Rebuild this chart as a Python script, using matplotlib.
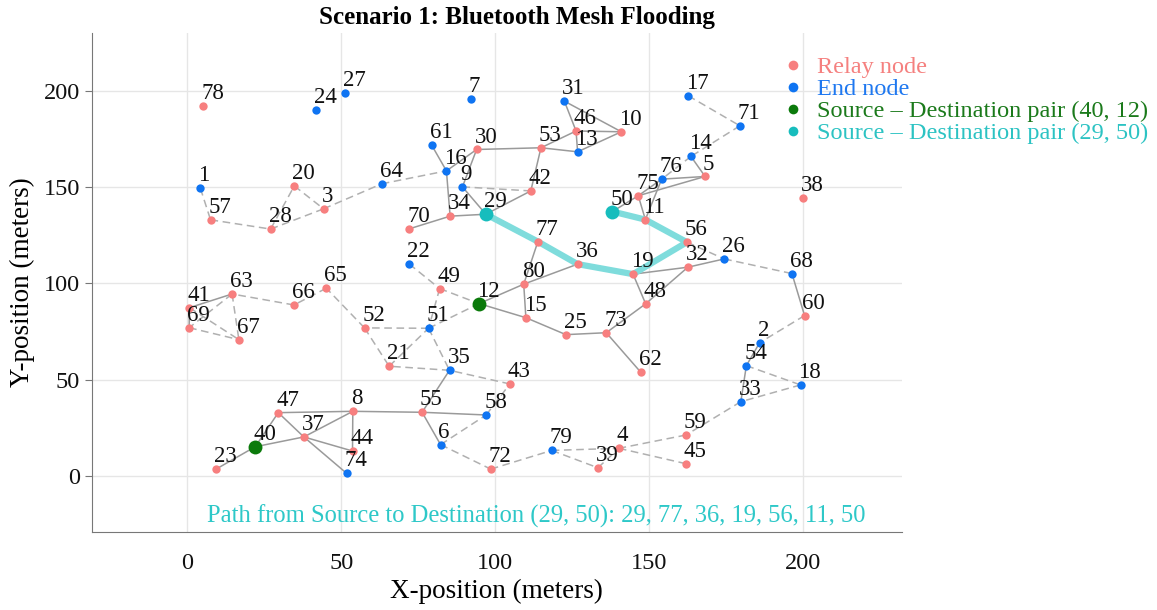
import numpy as np
import matplotlib.pyplot as plt
from matplotlib.lines import Line2D

plt.rcParams["font.family"] = ["Liberation Serif", "DejaVu Serif"]

# node positions (meters)
node_ids = list(range(1, 81))
node_x = [4.2, 185.8, 44.2, 140.1, 168.1, 82.2, 92.0, 53.7, 89.3, 140.9,
          148.7, 94.7, 126.7, 163.5, 109.9, 84.1, 162.6, 199.1, 144.7, 34.7,
          65.5, 72.0, 9.3, 41.9, 122.9, 174.3, 51.3, 27.0, 96.9, 93.9,
          122.4, 162.5, 179.7, 85.3, 85.1, 126.7, 37.8, 199.8, 133.3, 22.0,
          0.65, 111.5, 104.7, 53.6, 161.9, 126.2, 29.5, 148.8, 81.9, 138.0,
          78.3, 57.5, 114.8, 181.5, 76.2, 162.2, 7.5, 97.0, 161.9, 200.4,
          79.3, 147.2, 14.5, 63.1, 45.1, 34.6, 16.7, 196.3, 0.55, 72.0,
          179.4, 98.5, 136.0, 51.7, 146.4, 154.0, 113.8, 5.2, 118.3, 109.2]
node_y = [149.4, 69.2, 138.7, 14.4, 155.5, 16.3, 195.8, 33.6, 150.1, 178.7,
          133.1, 89.5, 168.3, 165.9, 82.2, 158.4, 197.4, 47.3, 104.8, 150.6,
          57.0, 110.1, 3.6, 189.8, 73.4, 112.7, 198.8, 128.2, 135.9, 169.5,
          194.6, 108.4, 38.6, 134.9, 54.9, 110.0, 20.3, 144.4, 4.3, 15.2,
          87.4, 148.0, 47.8, 13.0, 6.4, 179.1, 32.9, 89.4, 97.3, 137.3,
          76.7, 76.9, 170.4, 57.3, 33.1, 121.4, 133.0, 31.7, 21.3, 83.3,
          171.8, 53.9, 94.5, 151.7, 97.5, 88.8, 70.8, 105.1, 77.0, 128.3,
          181.8, 3.6, 74.4, 1.4, 145.5, 154.1, 121.7, 192.2, 13.3, 99.6]

end_nodes = [1, 2, 6, 7, 9, 13, 14, 16, 17, 18, 22, 24, 26, 27, 31, 33, 35,
             51, 54, 58, 61, 64, 68, 71, 74, 76, 79]
pair_green = [40, 12]
pair_cyan = [29, 50]
path_nodes = [29, 77, 36, 19, 56, 11, 50]

solid_edges = [(23, 40), (40, 47), (40, 37), (47, 37), (47, 8), (37, 8),
               (37, 44), (37, 74), (8, 44), (8, 55), (55, 58), (55, 35),
               (55, 6), (12, 80), (12, 15), (80, 15), (80, 77), (80, 36),
               (15, 25), (25, 73), (73, 48), (73, 62), (48, 32), (19, 32),
               (19, 48), (32, 26), (29, 34), (34, 70), (34, 16), (16, 61),
               (16, 30), (30, 9), (9, 29), (30, 53), (53, 42), (42, 29),
               (53, 46), (53, 13), (46, 10), (13, 10), (31, 46), (31, 10),
               (46, 13), (50, 75), (75, 76), (75, 5), (76, 5), (11, 75),
               (11, 76), (14, 5), (41, 63), (41, 69), (2, 54), (54, 33),
               (68, 60)]
dashed_edges = [(1, 57), (57, 28), (28, 20), (20, 3), (28, 3), (3, 64),
                (64, 16), (9, 42), (17, 71), (71, 14), (14, 76), (56, 26),
                (26, 68), (60, 2), (54, 18), (18, 33), (33, 59), (59, 4),
                (4, 45), (79, 39), (79, 4), (39, 4), (72, 79), (6, 72),
                (6, 58), (58, 43), (43, 35), (35, 21), (21, 51), (51, 35),
                (51, 52), (52, 21), (52, 65), (65, 66), (66, 63), (63, 69),
                (63, 67), (69, 67), (41, 67), (22, 49), (49, 12), (49, 51),
                (51, 12)]

pos = {n: (x, y) for n, x, y in zip(node_ids, node_x, node_y)}

relay_c = "#f77f7f"
end_c = "#0f74f2"
green_c = "#0b7a0b"
cyan_c = "#17bdbd"
path_c = "#7fdcdc"

fig = plt.figure(figsize=(11.57, 6.10), dpi=100)
ax = fig.add_axes([0.0795, 0.128, 0.700, 0.818])

for a, b in solid_edges:
    ax.plot([pos[a][0], pos[b][0]], [pos[a][1], pos[b][1]],
            color="#9a9a9a", lw=1.1, zorder=2)
for a, b in dashed_edges:
    ax.plot([pos[a][0], pos[b][0]], [pos[a][1], pos[b][1]],
            color="#b0b0b0", lw=1.1, ls=(0, (5, 3)), zorder=2)

ax.plot([pos[n][0] for n in path_nodes], [pos[n][1] for n in path_nodes],
        color=path_c, lw=4.5, solid_capstyle="round", zorder=3)

relay = [n for n in node_ids if n not in end_nodes + pair_green + pair_cyan]
ax.scatter([pos[n][0] for n in relay], [pos[n][1] for n in relay],
           s=36, color=relay_c, zorder=4, linewidths=0)
ax.scatter([pos[n][0] for n in end_nodes], [pos[n][1] for n in end_nodes],
           s=36, color=end_c, zorder=4, linewidths=0)
ax.scatter([pos[n][0] for n in pair_green], [pos[n][1] for n in pair_green],
           s=100, color=green_c, zorder=5, linewidths=0)
ax.scatter([pos[n][0] for n in pair_cyan], [pos[n][1] for n in pair_cyan],
           s=100, color=cyan_c, zorder=5, linewidths=0)

for n in node_ids:
    ax.annotate(str(n), pos[n], xytext=(-1.5, 5), textcoords="offset points",
                ha="left", va="baseline", fontsize=16.5, color="#111111",
                zorder=6)

ax.text(0.548, 0.032,
        "Path from Source to Destination (29, 50): 29, 77, 36, 19, 56, 11, 50",
        transform=ax.transAxes, ha="center", va="center", fontsize=17.7,
        color="#2ec8c8")

ax.set_xlim(-31, 232)
ax.set_ylim(-29, 230)
ax.set_xticks([0, 50, 100, 150, 200])
ax.set_yticks([0, 50, 100, 150, 200])
ax.grid(True, color="#e6e6e6", lw=1)
ax.set_axisbelow(True)
for s in ["top", "right"]:
    ax.spines[s].set_visible(False)
for s in ["left", "bottom"]:
    ax.spines[s].set_color("#777777")
ax.tick_params(axis="both", labelsize=17.5, colors="#111111", length=5,
               color="#777777")
ax.tick_params(axis="x", length=0, pad=15)
ax.set_xlabel("X-position (meters)", fontsize=19.5, labelpad=4)
ax.set_ylabel("Y-position (meters)", fontsize=19.5, labelpad=6)

fig.text(0.447, 0.972, "Scenario 1: Bluetooth Mesh Flooding",
         ha="center", va="center", fontsize=18, fontweight="bold")

handles = [Line2D([], [], ls="", marker="o", ms=7, color=c, mew=0)
           for c in [relay_c, end_c, green_c, cyan_c]]
labels = ["Relay node", "End node", "Source \u2013 Destination pair (40, 12)",
          "Source \u2013 Destination pair (29, 50)"]
fig.legend(handles, labels, loc="upper left",
           bbox_to_anchor=(0.664, 0.928), frameon=False, fontsize=17.5,
           labelcolor=["#f5807f", "#1f78f0", "#1b7a1b", "#2cc3c3"],
           handlelength=1.0, handletextpad=0.5, labelspacing=0.0,
           borderpad=0)

plt.savefig("out.png", dpi=100)
